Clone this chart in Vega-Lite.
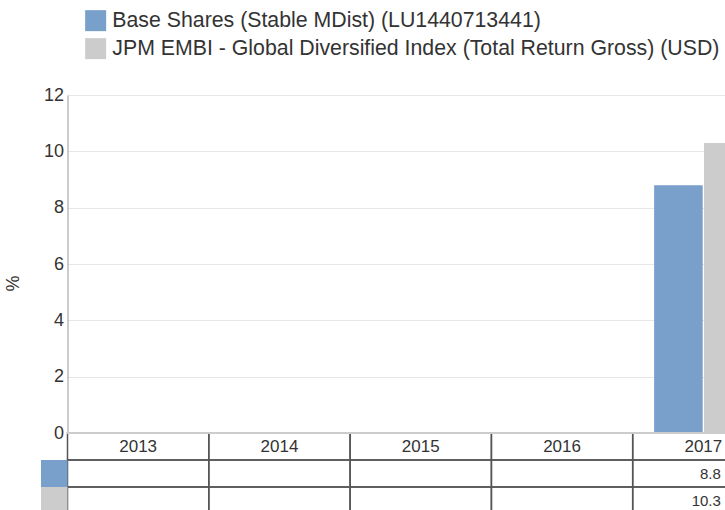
{
  "$schema": "https://vega.github.io/schema/vega-lite/v6.json",
  "width": 658,
  "height": 415,
  "autosize": {"type": "none"},
  "padding": {"left": 67.5, "top": 95, "right": 0, "bottom": 0},
  "config": {"font": "Liberation Sans", "view": {"stroke": null}},
  "data": {
    "values": [
      {"year": "2013", "series": "Base Shares (Stable MDist) (LU1440713441)", "value": null},
      {"year": "2013", "series": "JPM EMBI - Global Diversified Index (Total Return Gross) (USD)", "value": null},
      {"year": "2014", "series": "Base Shares (Stable MDist) (LU1440713441)", "value": null},
      {"year": "2014", "series": "JPM EMBI - Global Diversified Index (Total Return Gross) (USD)", "value": null},
      {"year": "2015", "series": "Base Shares (Stable MDist) (LU1440713441)", "value": null},
      {"year": "2015", "series": "JPM EMBI - Global Diversified Index (Total Return Gross) (USD)", "value": null},
      {"year": "2016", "series": "Base Shares (Stable MDist) (LU1440713441)", "value": null},
      {"year": "2016", "series": "JPM EMBI - Global Diversified Index (Total Return Gross) (USD)", "value": null},
      {"year": "2017", "series": "Base Shares (Stable MDist) (LU1440713441)", "value": 8.8},
      {"year": "2017", "series": "JPM EMBI - Global Diversified Index (Total Return Gross) (USD)", "value": 10.3}
    ]
  },
  "resolve": {"scale": {"x": "independent", "y": "independent"}, "axis": {"x": "independent", "y": "independent"}},
  "layer": [
    {
      "transform": [{"filter": "datum.value != null"}],
      "mark": {"type": "bar"},
      "encoding": {
        "x": {"field": "year", "type": "nominal", "scale": {"domain": ["2013", "2014", "2015", "2016", "2017"], "range": [0, 706.5], "paddingInner": 0, "paddingOuter": 0}, "axis": null},
        "xOffset": {"field": "series", "type": "nominal", "scale": {"domain": ["Base Shares (Stable MDist) (LU1440713441)", "JPM EMBI - Global Diversified Index (Total Return Gross) (USD)"], "paddingInner": 0.026, "paddingOuter": 0.43}},
        "y": {
          "field": "value", "type": "quantitative",
          "scale": {"domain": [0, 12], "range": [338, 0]},
          "axis": {
            "values": [0, 2, 4, 6, 8, 10, 12], "grid": true, "gridColor": "#e6e6e6", "domainColor": "#999999",
            "ticks": false, "labelFontSize": 18, "labelColor": "#333333", "labelPadding": 4,
            "title": "%", "titleFontSize": 18, "titleFontWeight": "normal", "titleColor": "#333333",
            "titleAngle": -90, "titleX": -54, "titleY": 188, "titleAlign": "center", "titleBaseline": "middle"
          }
        },
        "color": {
          "field": "series", "type": "nominal",
          "scale": {"domain": ["Base Shares (Stable MDist) (LU1440713441)", "JPM EMBI - Global Diversified Index (Total Return Gross) (USD)"], "range": ["#799fcb", "#cccccc"]},
          "legend": {
            "orient": "none", "legendX": 17.5, "legendY": -85, "title": null, "padding": 0,
            "symbolType": "square", "symbolSize": 441, "symbolStrokeWidth": 0, "symbolOpacity": 1,
            "labelFontSize": 21.3, "labelColor": "#333333", "labelLimit": 700, "labelOffset": 6, "rowPadding": 5
          }
        }
      }
    },
    {
      "mark": {"type": "rect", "fill": "transparent", "stroke": "#555555", "strokeWidth": 1.5},
      "encoding": {
        "x": {"field": "year", "type": "nominal", "scale": {"domain": ["2013", "2014", "2015", "2016", "2017"], "range": [0, 706.5], "paddingInner": 0, "paddingOuter": 0}, "axis": null},
        "y": {"field": "series", "type": "nominal", "scale": {"domain": ["Year", "Base Shares (Stable MDist) (LU1440713441)", "JPM EMBI - Global Diversified Index (Total Return Gross) (USD)"], "range": [338, 419], "paddingInner": 0, "paddingOuter": 0}, "axis": null}
      }
    },
    {
      "transform": [{"aggregate": [{"op": "count", "as": "n"}], "groupby": ["year"]}],
      "mark": {"type": "rect", "fill": "transparent", "stroke": "#555555", "strokeWidth": 1.5},
      "encoding": {
        "x": {"field": "year", "type": "nominal", "scale": {"domain": ["2013", "2014", "2015", "2016", "2017"], "range": [0, 706.5], "paddingInner": 0, "paddingOuter": 0}, "axis": null},
        "y": {"datum": "Year", "type": "nominal", "scale": {"domain": ["Year", "Base Shares (Stable MDist) (LU1440713441)", "JPM EMBI - Global Diversified Index (Total Return Gross) (USD)"], "range": [338, 419], "paddingInner": 0, "paddingOuter": 0}, "axis": null}
      }
    },
    {
      "mark": {"type": "rule", "color": "#cccccc", "strokeWidth": 2},
      "encoding": {
        "y": {"datum": 0, "type": "quantitative", "scale": {"domain": [0, 12], "range": [338, 0]}, "axis": null}
      }
    },
    {
      "transform": [{"aggregate": [{"op": "count", "as": "n"}], "groupby": ["year"]}],
      "mark": {"type": "text", "fontSize": 17, "color": "#333333", "align": "center", "baseline": "middle"},
      "encoding": {
        "x": {"field": "year", "type": "nominal", "scale": {"domain": ["2013", "2014", "2015", "2016", "2017"], "range": [0, 706.5], "paddingInner": 0, "paddingOuter": 0}, "axis": null},
        "y": {"datum": "Year", "type": "nominal", "scale": {"domain": ["Year", "Base Shares (Stable MDist) (LU1440713441)", "JPM EMBI - Global Diversified Index (Total Return Gross) (USD)"], "range": [338, 419], "paddingInner": 0, "paddingOuter": 0}, "axis": null},
        "text": {"field": "year"}
      }
    },
    {
      "transform": [{"filter": "datum.value != null"}],
      "mark": {"type": "text", "fontSize": 15, "color": "#333333", "align": "right", "baseline": "middle", "dx": 17.5},
      "encoding": {
        "x": {"field": "year", "type": "nominal", "scale": {"domain": ["2013", "2014", "2015", "2016", "2017"], "range": [0, 706.5], "paddingInner": 0, "paddingOuter": 0}, "axis": null},
        "y": {"field": "series", "type": "nominal", "scale": {"domain": ["Year", "Base Shares (Stable MDist) (LU1440713441)", "JPM EMBI - Global Diversified Index (Total Return Gross) (USD)"], "range": [338, 419], "paddingInner": 0, "paddingOuter": 0}, "axis": null},
        "text": {"field": "value", "type": "quantitative", "format": ".1f"}
      }
    },
    {
      "transform": [{"aggregate": [{"op": "count", "as": "n"}], "groupby": ["series"]}],
      "mark": {"type": "rect"},
      "encoding": {
        "x": {"datum": "key", "type": "nominal", "scale": {"domain": ["key"], "range": [-26.5, 0], "paddingInner": 0, "paddingOuter": 0}, "axis": null},
        "y": {"field": "series", "type": "nominal", "scale": {"domain": ["Year", "Base Shares (Stable MDist) (LU1440713441)", "JPM EMBI - Global Diversified Index (Total Return Gross) (USD)"], "range": [338, 419], "paddingInner": 0, "paddingOuter": 0}, "axis": null},
        "color": {"field": "series", "type": "nominal", "scale": {"domain": ["Base Shares (Stable MDist) (LU1440713441)", "JPM EMBI - Global Diversified Index (Total Return Gross) (USD)"], "range": ["#799fcb", "#cccccc"]}}
      }
    }
  ]
}
